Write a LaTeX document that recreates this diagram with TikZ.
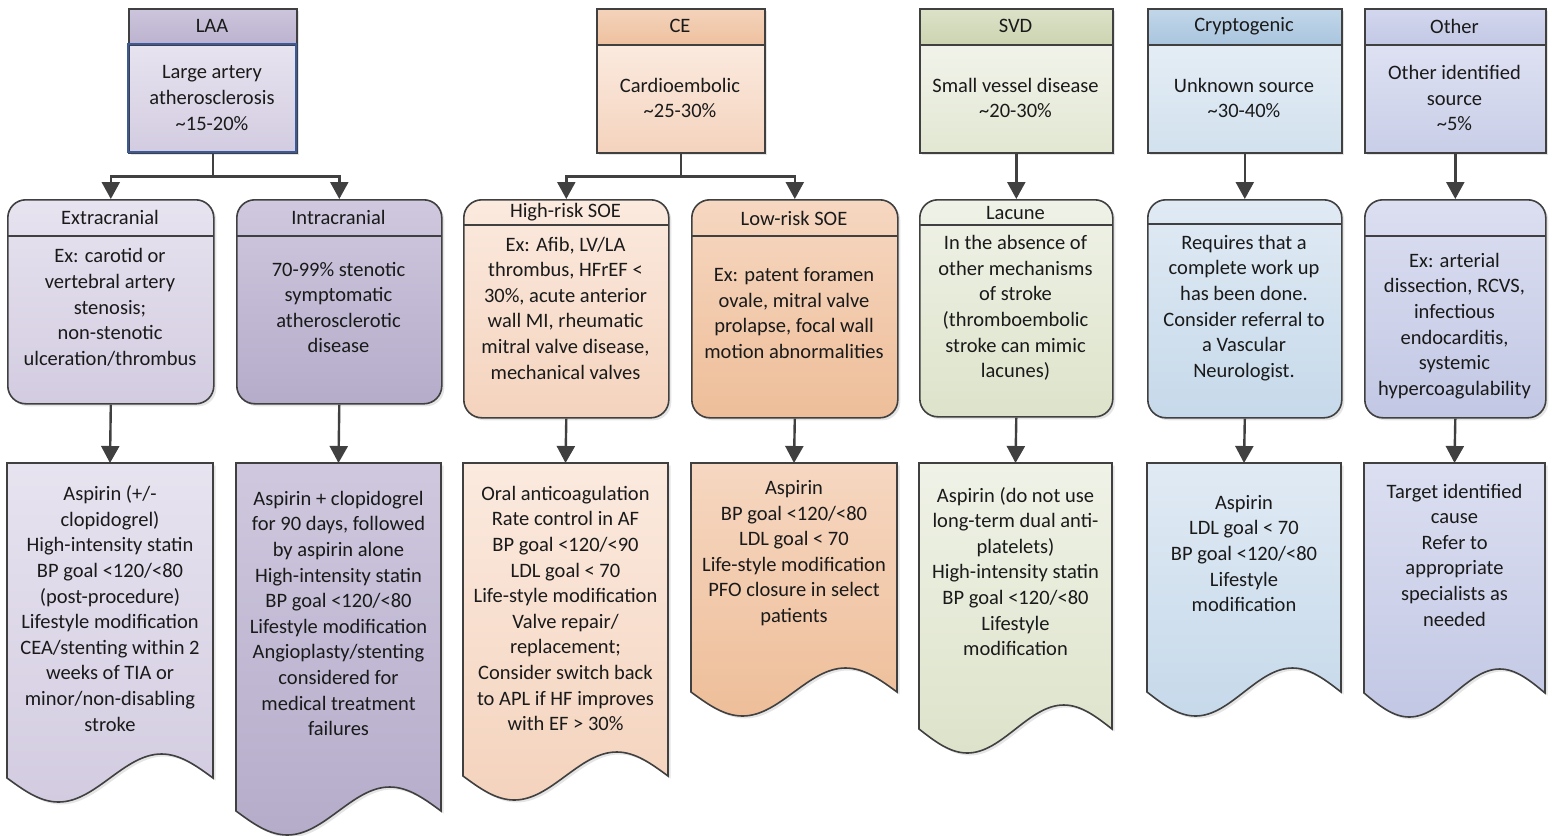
\documentclass[tikz,border=0pt]{standalone}
\usepackage{fontspec}
\setmainfont{Carlito}
\usetikzlibrary{arrows.meta,shadows}
\definecolor{edge}{HTML}{404040}
\definecolor{laablue}{HTML}{3A5AA0}
\definecolor{txtc}{HTML}{1A1A1A}
% purple
\definecolor{pA}{HTML}{CCC5DC}\definecolor{pB}{HTML}{BCB2CF}
\definecolor{pC}{HTML}{E7E3EF}\definecolor{pD}{HTML}{D3CCE1}
\definecolor{pE}{HTML}{CFC8DE}\definecolor{pF}{HTML}{B5ACCA}
% orange
\definecolor{oA}{HTML}{F4D3BB}\definecolor{oB}{HTML}{EEC19F}
\definecolor{oC}{HTML}{FBEADF}\definecolor{oD}{HTML}{F4D3BD}
\definecolor{oE}{HTML}{F6D7C1}\definecolor{oF}{HTML}{EEBE99}
% green
\definecolor{gA}{HTML}{DCE2C8}\definecolor{gB}{HTML}{CCD4B1}
\definecolor{gC}{HTML}{F1F3EA}\definecolor{gD}{HTML}{E2E7D2}
\definecolor{gE}{HTML}{EFF2E7}\definecolor{gF}{HTML}{DDE3CA}
% blue
\definecolor{bA}{HTML}{C2D7E9}\definecolor{bB}{HTML}{A9C5DE}
\definecolor{bC}{HTML}{E4EDF5}\definecolor{bD}{HTML}{D2E1EE}
\definecolor{bE}{HTML}{E0EAF4}\definecolor{bF}{HTML}{C6D9EA}
% lavender
\definecolor{lA}{HTML}{D3D7EE}\definecolor{lB}{HTML}{C3C8E5}
\definecolor{lC}{HTML}{DEE1F2}\definecolor{lD}{HTML}{C9CEE8}
\definecolor{lE}{HTML}{DCDFF1}\definecolor{lF}{HTML}{C2C7E4}
\tikzset{
  box/.style={draw=edge, line width=1.6pt},
  shd/.style={drop shadow={shadow xshift=2.5pt, shadow yshift=-2.5pt, fill=black, opacity=0.10}},
  grad/.style 2 args={top color=#1, bottom color=#2},
  txt/.style={align=center, font=\fontsize{20.5}{25.6}\selectfont, inner sep=0pt, text=txtc},
  arr/.style={draw=edge, line width=2.4pt, -{Triangle[width=18pt,length=17pt]}},
  sep/.style={draw=edge, line width=1.6pt},
}
% top box: name, x1, x2, header colours, body colours, header text, body text
\newcommand{\topbox}[9]{%
  \node[box, shd, grad={#4}{#5}, minimum width={(#3-#2)*1pt}, minimum height=36pt, anchor=north west, inner sep=0pt] (#1h) at (#2,8) {};
  \node[box, shd, grad={#6}{#7}, minimum width={(#3-#2)*1pt}, minimum height=108pt, anchor=north west, inner sep=0pt] (#1) at (#2,44) {};
  \node[txt] (#1ht) at ({(#2+#3)/2},26) {#8};
  \node[txt] (#1bt) at ({(#2+#3)/2},98) {#9};
}
% rounded box: name, x1, x2, y2, header line y, top colour, bottom colour
\newcommand{\rbox}[7]{%
  \node[box, shd, rounded corners=18pt, grad={#6}{#7}, minimum width={(#3-#2)*1pt}, minimum height={(#4-199)*1pt}, anchor=north west, inner sep=0pt] (#1) at (#2,199) {};
  \draw[sep] (#2,#5) -- (#3,#5);
}
% document shape: name, x1, x2, B (wave mid line), top colour, bottom colour
\newcommand{\docshape}[6]{%
  \path[box, shd, grad={#5}{#6}] (#2,463) -- (#3,463) -- (#3,#4)
     sin ({#2+0.75*(#3-#2)},{#4-24}) cos ({#2+0.5*(#3-#2)},#4)
     sin ({#2+0.25*(#3-#2)},{#4+24}) cos (#2,#4) -- cycle;
  \coordinate (#1) at ({(#2+#3)/2},463);
}
\begin{document}
\begin{tikzpicture}[x=1pt,y=-1pt]
\useasboundingbox (0,0) rectangle (1554,835);

% ---------- top row ----------
\topbox{laa}{128}{296}{pA}{pB}{pC}{pD}{LAA}{Large artery\\atherosclerosis\\\textasciitilde15-20\%}
\draw[draw=laablue, line width=1.6pt] (128,44) rectangle (296,152);
\topbox{ce}{596}{764}{oA}{oB}{oC}{oD}{CE}{Cardioembolic\\\textasciitilde25-30\%}
\topbox{svd}{919}{1112}{gA}{gB}{gC}{gD}{SVD}{Small vessel disease\\\textasciitilde20-30\%}
\topbox{cry}{1147}{1341}{bA}{bB}{bC}{bD}{Cryptogenic}{Unknown source\\\textasciitilde30-40\%}
\topbox{oth}{1364}{1545}{lA}{lB}{lC}{lD}{Other}{Other identified\\source\\\textasciitilde5\%}

% ---------- middle row ----------
\rbox{ext}{7}{213}{403}{236}{pC}{pD}
\node[txt] (extht) at (110,217.5) {Extracranial};
\node[txt] (extbt) at (110,307.5) {Ex: carotid or\\vertebral artery\\stenosis;\\non-stenotic\\ulceration/thrombus};

\rbox{intra}{236}{441}{403}{236}{pE}{pF}
\node[txt] (intraht) at (338.5,217.5) {Intracranial};
\node[txt] (intrabt) at (338.5,307.5) {70-99\% stenotic\\symptomatic\\atherosclerotic\\disease};

\rbox{high}{463}{668}{417}{225}{oC}{oD}
\node[txt] (highht) at (565.5,212) {High-risk SOE};
\node[txt] (highbt) at (565.5,308) {Ex: Afib, LV/LA\\thrombus, HFrEF <\\30\%, acute anterior\\wall MI, rheumatic\\mitral valve disease,\\mechanical valves};

\rbox{low}{691}{897}{417}{236}{oE}{oF}
\node[txt] (lowht) at (794,218) {Low-risk SOE};
\node[txt] (lowbt) at (794,313) {Ex: patent foramen\\ovale, mitral valve\\prolapse, focal wall\\motion abnormalities};

\rbox{lac}{919}{1112}{416}{225}{gE}{gF}
\node[txt] (lacht) at (1015.5,212.5) {Lacune};
\node[txt] (lacbt) at (1015.5,308) {In the absence of\\other mechanisms\\of stroke\\(thromboembolic\\stroke can mimic\\lacunes)};

\rbox{crym}{1147}{1341}{417}{224}{bE}{bF}
\node[txt] (crymbt) at (1244,308) {Requires that a\\complete work up\\has been done.\\Consider referral to\\a Vascular\\Neurologist.};

\rbox{othm}{1364}{1545}{417}{236}{lE}{lF}
\node[txt] (othmbt) at (1454.5,326) {Ex: arterial\\dissection, RCVS,\\infectious\\endocarditis,\\systemic\\hypercoagulability};

% ---------- bottom row ----------
\docshape{extd}{7}{213}{778}{pC}{pD}
\node[txt] (extdt) at (110,608.5) {Aspirin (+/-\\clopidogrel)\\High-intensity statin\\BP goal <120/<80\\(post-procedure)\\Lifestyle modification\\CEA/stenting within 2\\weeks of TIA or\\minor/non-disabling\\stroke};

\docshape{intrad}{236}{441}{811}{pE}{pF}
\node[txt] (intradt) at (338.5,613.5) {Aspirin + clopidogrel\\for 90 days, followed\\by aspirin alone\\High-intensity statin\\BP goal <120/<80\\Lifestyle modification\\Angioplasty/stenting\\considered for\\medical treatment\\failures};

\docshape{highd}{463}{668}{776}{oC}{oD}
\node[txt] (highdt) at (565.5,608.5) {Oral anticoagulation\\Rate control in AF\\BP goal <120/<90\\LDL goal < 70\\Life-style modification\\Valve repair/\\replacement;\\Consider switch back\\to APL if HF improves\\with EF > 30\%};

\docshape{lowd}{691}{897}{692}{oE}{oF}
\node[txt] (lowdt) at (794,553) {Aspirin\\BP goal <120/<80\\LDL goal < 70\\Life-style modification\\PFO closure in select\\patients};

\docshape{lacd}{919}{1112}{729}{gE}{gF}
\node[txt] (lacdt) at (1015.5,571.5) {Aspirin (do not use\\long-term dual anti-\\platelets)\\High-intensity statin\\BP goal <120/<80\\Lifestyle\\modification};

\docshape{cryd}{1147}{1341}{692}{bE}{bF}
\node[txt] (crydt) at (1244,553.5) {Aspirin\\LDL goal < 70\\BP goal <120/<80\\Lifestyle\\modification};

\docshape{othd}{1364}{1545}{693}{lE}{lF}
\node[txt] (othdt) at (1454.5,555) {Target identified\\cause\\Refer to\\appropriate\\specialists as\\needed};

% ---------- connectors ----------
\draw[arr] (laa.south) -- ++(0,23) -| (ext.north);
\draw[arr] (laa.south) -- ++(0,23) -| (intra.north);
\draw[arr] (ce.south) -- ++(0,23) -| (high.north);
\draw[arr] (ce.south) -- ++(0,23) -| (low.north);
\draw[arr] (svd.south) -- (lac.north);
\draw[arr] (cry.south) -- (crym.north);
\draw[arr] (oth.south) -- (othm.north);

\draw[arr] (ext.south) -- (extd);
\draw[arr] (intra.south) -- (intrad);
\draw[arr] (high.south) -- (highd);
\draw[arr] (low.south) -- (lowd);
\draw[arr] (lac.south) -- (lacd);
\draw[arr] (crym.south) -- (cryd);
\draw[arr] (othm.south) -- (othd);
\end{tikzpicture}
\end{document}
